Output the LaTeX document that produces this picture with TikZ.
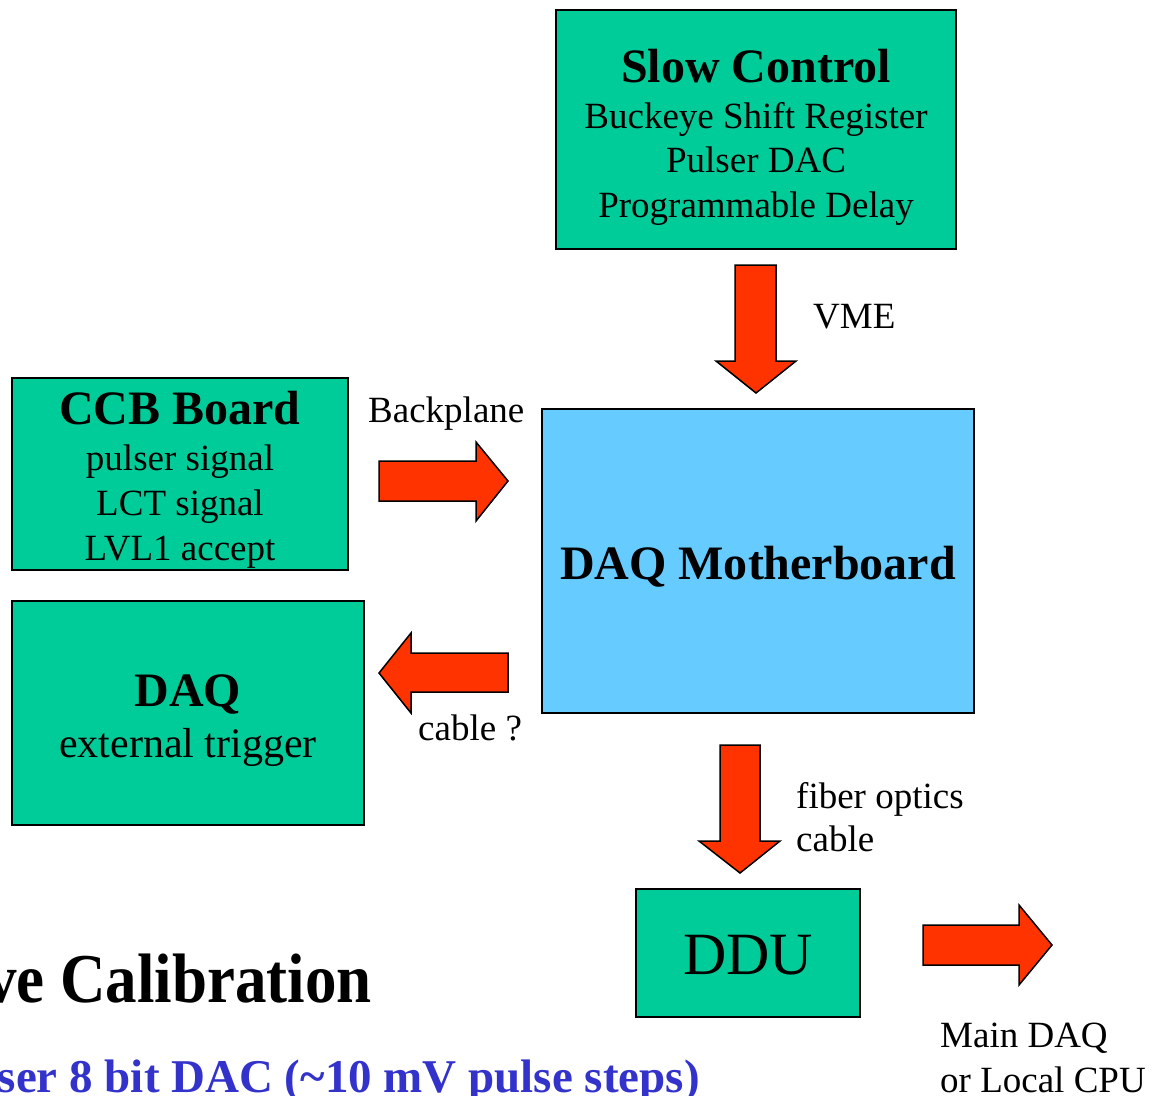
\documentclass[tikz,border=0pt]{standalone}
\usepackage{fontspec}
\setmainfont{Liberation Serif}
\definecolor{boxgreen}{HTML}{00CC99}
\definecolor{boxblue}{HTML}{66CCFF}
\definecolor{arrowred}{HTML}{FF3300}
\definecolor{textblue}{HTML}{3333CC}
\tikzset{
  box/.style={draw=black, line width=1.8pt, inner sep=0pt},
  greenbox/.style={box, fill=boxgreen},
  bluebox/.style={box, fill=boxblue},
  fatarrow/.style={draw=black, line width=1.5pt, fill=arrowred, line join=miter},
  txt/.style={anchor=base, inner sep=0pt, font=\fontsize{37}{44}\selectfont},
  ltxt/.style={anchor=base west, inner sep=0pt, font=\fontsize{37}{44}\selectfont},
  bigtxt/.style={anchor=base, inner sep=0pt, font=\bfseries\fontsize{48}{56}\selectfont}
}
\begin{document}
\begin{tikzpicture}[x=1pt,y=-1pt]
\useasboundingbox (0,0) rectangle (1161,1095);
\clip (0,0) rectangle (1161,1095);

% boxes
\node[greenbox, minimum width=400pt, minimum height=239pt] (sc) at (756,129.5) {};
\node[bluebox, minimum width=432pt, minimum height=304pt] (mb) at (758,561) {};
\node[greenbox, minimum width=336pt, minimum height=192pt] (ccb) at (180,474) {};
\node[greenbox, minimum width=352pt, minimum height=224pt] (ext) at (188,713) {};
\node[greenbox, minimum width=224pt, minimum height=128pt] (ddu) at (748,953) {};

% box texts
\node[bigtxt] (sct) at (756,82) {Slow Control};
\node[txt] (sc1) at (756,128) {Buckeye Shift Register};
\node[txt] (sc2) at (756,172) {Pulser DAC};
\node[txt] (sc3) at (756,217) {Programmable Delay};

\node[bigtxt] (mbt) at (758,579) {DAQ Motherboard};

\node[bigtxt] (ccbt) at (180,424) {CCB Board};
\node[txt] (ccb1) at (180,470) {pulser signal};
\node[txt] (ccb2) at (180,515) {LCT signal};
\node[txt] (ccb3) at (180,560) {LVL1 accept};

\node[bigtxt] (extt) at (188,706) {DAQ};
\node[txt, font=\fontsize{42}{50}\selectfont] (ext1) at (188,757) {external trigger};

\node[txt, font=\fontsize{60}{70}\selectfont] (ddut) at (748,974) {DDU};

% fat arrows
\draw[fatarrow] (735,265) -- (776,265) -- (776,361) -- (796,361) -- (756,393) -- (716,361) -- (735,361) -- cycle;
\draw[fatarrow] (379,461) -- (476,461) -- (476,442) -- (508,481) -- (476,521) -- (476,501) -- (379,501) -- cycle;
\draw[fatarrow] (508,653) -- (411,653) -- (411,633) -- (379,673) -- (411,713) -- (411,692) -- (508,692) -- cycle;
\draw[fatarrow] (720,745) -- (760,745) -- (760,841) -- (780,841) -- (740,873) -- (699,841) -- (720,841) -- cycle;
\draw[fatarrow] (923,925) -- (1019,925) -- (1019,905) -- (1052,945) -- (1019,985) -- (1019,965) -- (923,965) -- cycle;

% arrow labels
\node[ltxt] (vme) at (813,328) {VME};
\node[ltxt] (bp) at (368,422) {Backplane};
\node[ltxt] (cab) at (418,740) {cable ?};
\node[ltxt] (fo1) at (796,808) {fiber optics};
\node[ltxt] (fo2) at (796,851) {cable};
\node[ltxt] (md1) at (940,1047) {Main DAQ};
\node[ltxt] (md2) at (940,1092) {or Local CPU};

% cut-off title texts
\node[anchor=base east, inner sep=0pt, font=\bfseries\fontsize{70}{80}\selectfont] (title) at (372,1002) {\scalebox{0.9}[1]{ve Calibration}};
\node[anchor=base east, inner sep=0pt, text=textblue, font=\bfseries\fontsize{47}{56}\selectfont] (sub) at (700,1092) {ser 8 bit DAC (\textasciitilde10 mV pulse steps)};
\end{tikzpicture}
\end{document}
